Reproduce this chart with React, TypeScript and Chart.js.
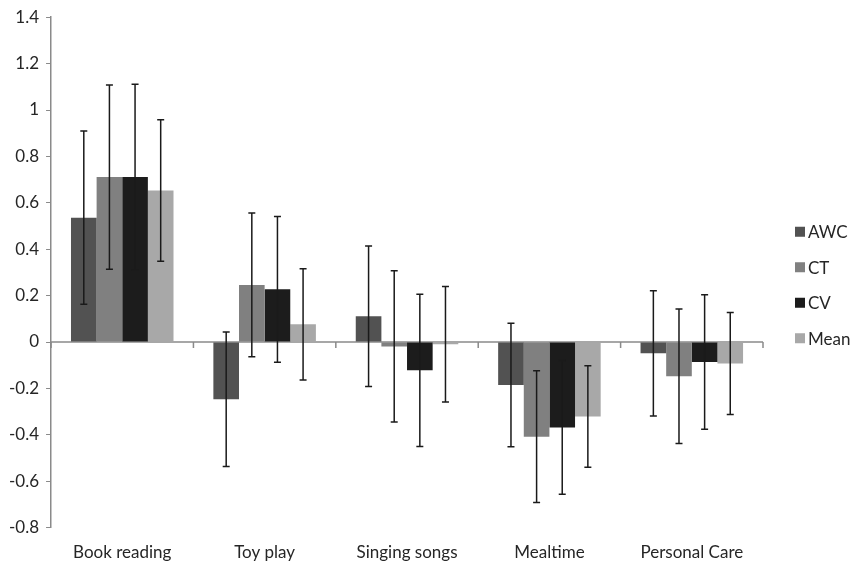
import React, { useEffect, useRef } from "react";
import { Chart, registerables } from "chart.js";

Chart.register(...registerables);

const categories = ["Book reading", "Toy play", "Singing songs", "Mealtime", "Personal Care"];
const seriesNames = ["AWC", "CT", "CV", "Mean"];
const awcValues = [0.536, -0.247, 0.111, -0.185, -0.049];
const ctValues = [0.711, 0.246, -0.019, -0.408, -0.148];
const cvValues = [0.711, 0.227, -0.122, -0.368, -0.086];
const meanValues = [0.653, 0.076, -0.01, -0.321, -0.093];
const awcErrors = [0.373, 0.29, 0.303, 0.266, 0.27];
const ctErrors = [0.397, 0.31, 0.326, 0.284, 0.29];
const cvErrors = [0.4, 0.314, 0.328, 0.288, 0.29];
const meanErrors = [0.305, 0.24, 0.249, 0.219, 0.22];
const colors = ["#525252", "#808080", "#1c1c1c", "#a8a8a8"];
const yMin = -0.8;
const yMax = 1.4;
const yStep = 0.2;

const FONT = "Lato, 'Open Sans', sans-serif";
const FONT_SIZE = 17;
const TEXT = "#262626";
const AXIS = "#8a8a8a";

// zero-crossing category axis line with tick marks at category boundaries
const zeroAxisPlugin = {
  id: "zeroAxis",
  beforeDatasetsDraw(chart: any) {
    const ctx = chart.ctx;
    const xs = chart.scales.x;
    const y0 = chart.scales.y.getPixelForValue(0);
    const n = chart.data.labels.length;
    const step = (xs.right - xs.left) / n;
    ctx.save();
    ctx.strokeStyle = AXIS;
    ctx.lineWidth = 1.5;
    ctx.beginPath();
    ctx.moveTo(xs.left, y0);
    ctx.lineTo(xs.right, y0);
    for (let i = 0; i <= n; i++) {
      const x = xs.left + i * step;
      ctx.moveTo(x, y0);
      ctx.lineTo(x, y0 + 6);
    }
    ctx.stroke();
    ctx.restore();
  },
};

const errorBarPlugin = {
  id: "errorBars",
  afterDatasetsDraw(chart: any) {
    const ctx = chart.ctx;
    const yScale = chart.scales.y;
    ctx.save();
    ctx.strokeStyle = "#1a1a1a";
    ctx.lineWidth = 1.5;
    chart.data.datasets.forEach((ds: any, di: number) => {
      const meta = chart.getDatasetMeta(di);
      meta.data.forEach((bar: any, i: number) => {
        const v = ds.data[i];
        const e = ds.errors[i];
        const x = bar.x;
        const yTop = yScale.getPixelForValue(v + e);
        const yBot = yScale.getPixelForValue(v - e);
        const cap = 3.5;
        ctx.beginPath();
        ctx.moveTo(x, yTop);
        ctx.lineTo(x, yBot);
        ctx.moveTo(x - cap, yTop);
        ctx.lineTo(x + cap, yTop);
        ctx.moveTo(x - cap, yBot);
        ctx.lineTo(x + cap, yBot);
        ctx.stroke();
      });
    });
    ctx.restore();
  },
};

const sideLegendPlugin = {
  id: "sideLegend",
  afterDraw(chart: any) {
    const ctx = chart.ctx;
    const ds = chart.data.datasets;
    const spacing = 35.5;
    const centerY = chart.height / 2 + 4;
    const boxX = chart.chartArea.right + 32;
    const box = 10;
    ctx.save();
    ctx.font = `${FONT_SIZE}px ${FONT}`;
    ctx.textBaseline = "middle";
    ctx.textAlign = "left";
    ds.forEach((d: any, i: number) => {
      const y = centerY + (i - (ds.length - 1) / 2) * spacing;
      ctx.fillStyle = d.backgroundColor;
      ctx.fillRect(boxX, y - box / 2, box, box);
      ctx.fillStyle = TEXT;
      ctx.fillText(d.label, boxX + box + 3, y + 1);
    });
    ctx.restore();
  },
};

export default function App() {
  const ref = useRef<HTMLCanvasElement | null>(null);
  useEffect(() => {
    if (!ref.current) return;
    const allValues = [awcValues, ctValues, cvValues, meanValues];
    const allErrors = [awcErrors, ctErrors, cvErrors, meanErrors];
    const chart = new Chart(ref.current, {
      type: "bar",
      data: {
        labels: categories,
        datasets: seriesNames.map((name, i) => ({
          label: name,
          data: allValues[i],
          errors: allErrors[i],
          backgroundColor: colors[i],
          borderWidth: 0,
          categoryPercentage: 0.72,
          barPercentage: 1.0,
        })) as any,
      },
      options: {
        animation: false,
        responsive: true,
        maintainAspectRatio: false,
        layout: { padding: { left: 2, top: 2, right: 96, bottom: -16 } },
        plugins: {
          tooltip: { enabled: false },
          legend: { display: false },
        },
        scales: {
          x: {
            position: "bottom",
            grid: { display: false, drawTicks: false },
            border: { display: false },
            ticks: { color: TEXT, font: { family: FONT, size: FONT_SIZE }, padding: 15 },
          },
          y: {
            min: yMin,
            max: yMax,
            grid: {
              display: true,
              drawOnChartArea: false,
              drawTicks: true,
              tickLength: 5,
              color: AXIS,
            },
            border: { display: true, color: AXIS, width: 1.5 },
            ticks: {
              stepSize: yStep,
              color: TEXT,
              font: { family: FONT, size: FONT_SIZE },
              padding: 7,
              callback: (v: any) => String(Math.round(Number(v) * 10) / 10),
            },
          },
        },
      },
      plugins: [zeroAxisPlugin, errorBarPlugin, sideLegendPlugin],
    });
    return () => chart.destroy();
  }, []);
  return (
    <div style={{ position: "fixed", left: 0, top: 0, width: 859, height: 562, background: "#fff" }}>
      <canvas ref={ref} />
    </div>
  );
}
